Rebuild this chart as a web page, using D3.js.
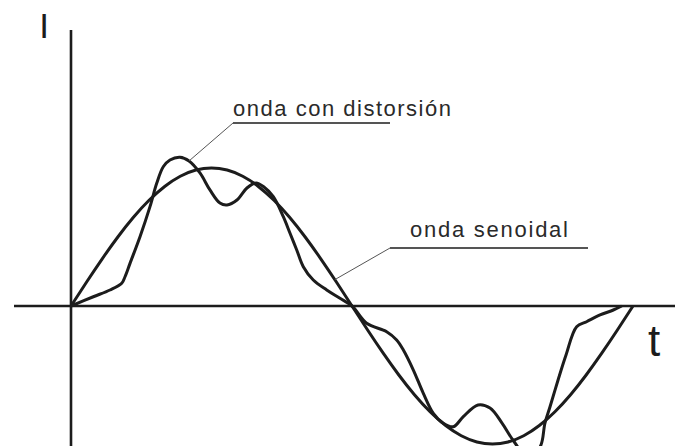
<!DOCTYPE html>
<html>
<head>
<meta charset="utf-8">
<script src="https://cdn.jsdelivr.net/npm/d3@7"></script>
<style>
  html, body { margin: 0; padding: 0; background: #fff; }
  svg { display: block; }
</style>
</head>
<body>
<script>
// Pure sine wave, one full period (angle in degrees, current in peak units)
const sineAngles = [0, 10, 20, 30, 40, 50, 60, 70, 80, 90, 100, 110, 120, 130, 140, 150, 160, 170, 180,
                    190, 200, 210, 220, 230, 240, 250, 260, 270, 280, 290, 300, 310, 320, 330, 340, 350, 360];
const sineValues = [0, 0.174, 0.342, 0.5, 0.643, 0.766, 0.866, 0.94, 0.985, 1, 0.985, 0.94, 0.866, 0.766, 0.643, 0.5, 0.342, 0.174, 0,
                    -0.174, -0.342, -0.5, -0.643, -0.766, -0.866, -0.94, -0.985, -1, -0.985, -0.94, -0.866, -0.766, -0.643, -0.5, -0.342, -0.174, 0];

// Distorted (harmonic-rich) wave
const distAngles = [0, 14.3, 25, 32.5, 34.6, 37.8, 44.2, 50.6, 54.9, 59.1, 63.4, 69.8, 75.6, 82.6, 89, 95.4, 99.9,
                    106.3, 112.7, 118.5, 123.6, 129.6, 136, 140.3, 144.6, 148.8, 155.2, 163.8, 172.3, 180,
                    189.4, 202.2, 208.6, 212.9, 219.3, 225.7, 232.1, 238.5, 244.9, 251.3, 260.7, 268.4, 276.1,
                    283.1, 292.1, 300.4, 303.6, 306.8, 312, 317.1, 323.9, 330.3, 338.9, 347.4, 352.8];
const distValues = [0, 0.067, 0.116, 0.165, 0.212, 0.309, 0.502, 0.72, 0.889, 1.009, 1.058, 1.078, 1.051, 0.964, 0.841, 0.746, 0.732,
                    0.768, 0.855, 0.891, 0.862, 0.792, 0.647, 0.527, 0.406, 0.285, 0.188, 0.116, 0.056, 0,
                    -0.125, -0.186, -0.246, -0.319, -0.464, -0.633, -0.778, -0.85, -0.875, -0.802, -0.717, -0.739, -0.848,
                    -0.971, -1.087, -1.022, -0.848, -0.732, -0.536, -0.355, -0.15, -0.114, -0.065, -0.029, 0];

// Callout texts and where their leaders touch the curves
const calloutTexts = ["onda con distorsión", "onda senoidal"];
const calloutAngles = [75.6, 169];
const calloutValues = [1.051, 0.191];

const axisTitles = ["I", "t"];

const W = 675, H = 446;
const ink = "#1c1c1c";

const svg = d3.select("body").append("svg")
  .attr("width", W).attr("height", H)
  .style("font-family", "'Liberation Sans', Arial, sans-serif");

const x = d3.scaleLinear().domain([0, 360]).range([71, 633]);
const y = d3.scaleLinear().domain([0, 1]).range([306, 168]);

// Axes
svg.append("line")
  .attr("x1", x(0)).attr("x2", x(0))
  .attr("y1", 30).attr("y2", H)
  .attr("stroke", ink).attr("stroke-width", 2.6);
svg.append("line")
  .attr("x1", 14).attr("x2", W)
  .attr("y1", y(0)).attr("y2", y(0))
  .attr("stroke", ink).attr("stroke-width", 2.6);

svg.append("text")
  .attr("x", 44).attr("y", 38)
  .attr("text-anchor", "middle")
  .attr("font-size", 35)
  .attr("fill", ink)
  .text(axisTitles[0]);
svg.append("text")
  .attr("x", 654).attr("y", 356)
  .attr("text-anchor", "middle")
  .attr("font-size", 44)
  .attr("fill", ink)
  .text(axisTitles[1]);

const line = d3.line()
  .x(d => x(d[0]))
  .y(d => y(d[1]));

svg.append("path")
  .datum(d3.zip(sineAngles, sineValues))
  .attr("d", line.curve(d3.curveNatural))
  .attr("fill", "none")
  .attr("stroke", ink)
  .attr("stroke-width", 3)
  .attr("stroke-linejoin", "round");

svg.append("path")
  .datum(d3.zip(distAngles, distValues))
  .attr("d", line.curve(d3.curveCatmullRom.alpha(0.5)))
  .attr("fill", "none")
  .attr("stroke", ink)
  .attr("stroke-width", 3)
  .attr("stroke-linejoin", "round");

// Callouts: label, underline, and a thin leader to the curve
const callouts = [
  { tx: 233, ty: 116, tw: 218, ux1: 233, ux2: 390, uy: 123 },
  { tx: 410, ty: 237, tw: 158, ux1: 390, ux2: 588, uy: 248 }
];
callouts.forEach((c, i) => {
  svg.append("text")
    .attr("x", c.tx).attr("y", c.ty)
    .attr("font-size", 22)
    .attr("fill", "#2a2a2a")
    .attr("textLength", c.tw)
    .attr("lengthAdjust", "spacing")
    .text(calloutTexts[i]);
  svg.append("line")
    .attr("x1", c.ux1).attr("x2", c.ux2)
    .attr("y1", c.uy).attr("y2", c.uy)
    .attr("stroke", ink).attr("stroke-width", 1.6);
  svg.append("line")
    .attr("x1", c.ux1).attr("y1", c.uy)
    .attr("x2", x(calloutAngles[i])).attr("y2", y(calloutValues[i]))
    .attr("stroke", "#555").attr("stroke-width", 1);
});
</script>
</body>
</html>
